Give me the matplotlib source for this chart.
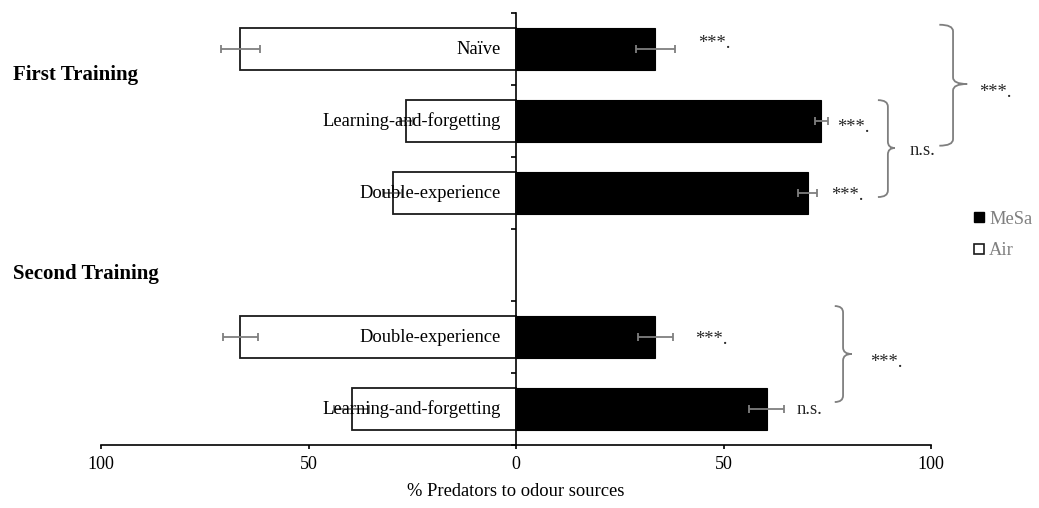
import numpy as np
import matplotlib.pyplot as plt
from matplotlib.path import Path
from matplotlib.patches import PathPatch
from matplotlib.lines import Line2D

plt.rcParams['font.family'] = ['Liberation Serif', 'DejaVu Serif']

# Data: % of predators choosing each odour source
groups = ["First Training", "Second Training"]
group_sizes = [3, 2]
categories = ["Naïve", "Learning-and-forgetting", "Double-experience",
              "Double-experience", "Learning-and-forgetting"]
mesa_pct = [33.6, 73.6, 70.3, 33.6, 60.4]
air_pct = [66.4, 26.4, 29.7, 66.4, 39.6]
sem = [4.7, 1.5, 2.3, 4.2, 4.2]
choice_sig = ["***.", "***.", "***.", "***.", "n.s."]
# between-treatment comparisons (pairs of category indices)
comparisons = [((1, 2), "n.s."), ((0, 2), "***."), ((3, 4), "***.")]

# slot positions: groups separated by one empty slot
pos = []
slot = 0
for n in group_sizes:
    pos.extend(range(slot, slot + n))
    slot += n + 1
n_slots = slot - 1

fig = plt.figure(figsize=(10.39, 5.08), dpi=100)
ax = fig.add_axes([0.0972, 0.124, 0.7989, 0.8504])

BAR_H = 0.58
ERR = dict(ecolor='#7f7f7f', elinewidth=1.3, capsize=3.2, capthick=1.3)
ax.barh(pos, mesa_pct, height=BAR_H, color='black', edgecolor='black',
        linewidth=0.8, xerr=sem, error_kw=ERR, zorder=2, label='MeSa')
ax.barh(pos, [-a for a in air_pct], height=BAR_H, color='white',
        edgecolor='#1a1a1a', linewidth=1.3, xerr=sem, error_kw=ERR,
        zorder=2, label='Air')

ax.set_xlim(-100, 100)
ax.set_ylim(n_slots - 0.5, -0.5)

# axes: vertical axis through zero, horizontal axis at the bottom
for s in ('top', 'right'):
    ax.spines[s].set_visible(False)
ax.spines['left'].set_position(('data', 0))
for s in ('left', 'bottom'):
    ax.spines[s].set_linewidth(1.2)
    ax.spines[s].set_zorder(3)

ticks = [-100, -50, 0, 50, 100]
ax.set_xticks(ticks)
ax.set_xticklabels([str(abs(t)) for t in ticks], fontsize=13)
ax.tick_params(axis='x', direction='out', length=3, width=1.2, pad=5)
ax.set_yticks(np.arange(-0.5, n_slots, 1.0))
ax.set_yticklabels([])
ax.tick_params(axis='y', direction='out', length=3.8, width=1.2)
ax.set_xlabel("% Predators to odour sources", fontsize=13.3, labelpad=7)

# category names inside the Air side
for p, c in zip(pos, categories):
    ax.text(-3.6, p, c, ha='right', va='center', fontsize=13.3, zorder=4)

# MeSa vs Air significance
sig_x = [43.9, 77.3, 75.9, 43.1, 67.7]
sig_dy = [-0.02, 0.15, 0.10, 0.10, 0.07]
for p, s, x, dy in zip(pos, choice_sig, sig_x, sig_dy):
    ax.text(x, p + dy, s, ha='left', va='baseline', fontsize=13.3,
            color='#262626')


def brace(ax, x0, xv, xtip, y0, y1, ym, color='#7f7f7f'):
    r = 0.09
    verts = [(x0, y0), (xv, y0), (xv, y0 + r),
             (xv, ym - r), (xv, ym), (xtip, ym),
             (xv, ym), (xv, ym + r),
             (xv, y1 - r), (xv, y1), (x0, y1)]
    codes = [Path.MOVETO, Path.CURVE3, Path.CURVE3,
             Path.LINETO, Path.CURVE3, Path.CURVE3,
             Path.CURVE3, Path.CURVE3,
             Path.LINETO, Path.CURVE3, Path.CURVE3]
    ax.add_patch(PathPatch(Path(verts, codes), fill=False, edgecolor=color,
                           linewidth=1.3, clip_on=False))


# brace geometry (data units) and label anchors
brace_geom = [
    dict(x0=87.2, xv=89.6, xtip=91.3, y0=0.71, y1=2.056, ym=1.375, tx=94.9, ty=1.47),
    dict(x0=102.0, xv=105.3, xtip=108.7, y0=-0.337, y1=1.343, ym=0.486, tx=111.6, ty=0.66),
    dict(x0=76.8, xv=78.8, xtip=80.9, y0=3.57, y1=4.903, ym=4.236, tx=85.3, ty=4.41),
]
for (pair, lab), g in zip(comparisons, brace_geom):
    brace(ax, g['x0'], g['xv'], g['xtip'], g['y0'], g['y1'], g['ym'])
    ax.text(g['tx'], g['ty'], lab, ha='left', va='baseline', fontsize=13.3,
            color='#262626', clip_on=False)

# group titles
group_y = [0.8425, 0.4508]
for gname, gy in zip(groups, group_y):
    fig.text(0.0125, gy, gname, ha='left', va='baseline', fontsize=15,
             fontweight='bold')

handles = [Line2D([], [], marker='s', ls='', mfc='black', mec='black', ms=6.5),
           Line2D([], [], marker='s', ls='', mfc='white', mec='#1a1a1a',
                  mew=1.2, ms=6.5)]
leg = fig.legend(handles, ['MeSa', 'Air'], loc='upper left',
                 bbox_to_anchor=(0.936, 0.585), frameon=False, fontsize=13.3,
                 handlelength=0.7, handletextpad=0.2, labelspacing=0.78,
                 borderaxespad=0, borderpad=0)
for t in leg.get_texts():
    t.set_color('#7f7f7f')

fig.savefig('out.png', dpi=100)
